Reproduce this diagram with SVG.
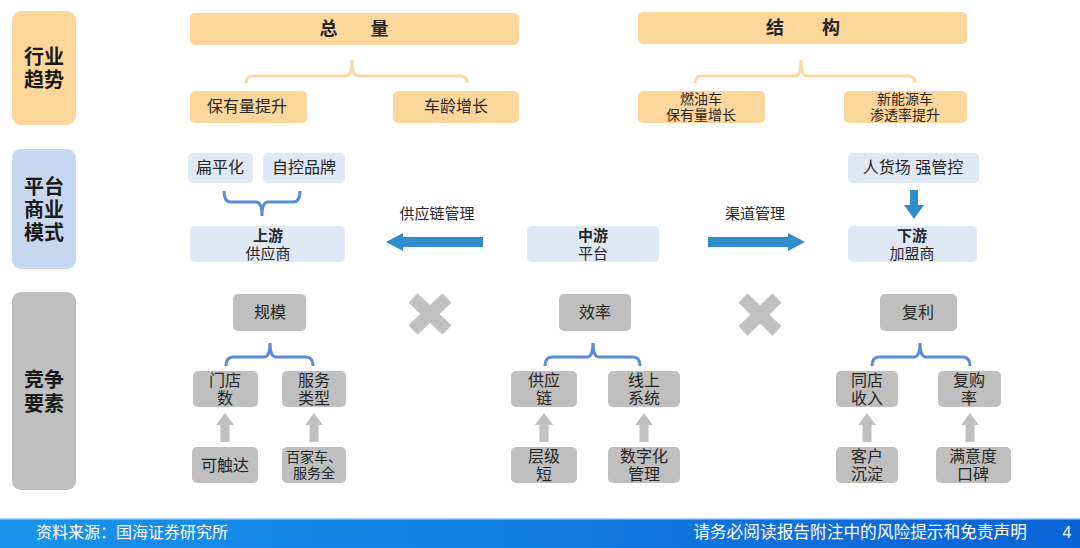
<svg xmlns="http://www.w3.org/2000/svg" width="1080" height="548" viewBox="0 0 1080 548">
<defs>
<linearGradient id="foot" x1="0" y1="0" x2="1" y2="0">
<stop offset="0" stop-color="#1994ec"/>
<stop offset="1" stop-color="#0b62d6"/>
</linearGradient>
</defs>
<style>
text{font-family:"Liberation Sans","Noto Sans CJK SC",sans-serif;text-anchor:middle;dominant-baseline:central;fill:#262626}
.side{font-size:20px;font-weight:bold;fill:#1a1a1a}
.pe{fill:#fdd69b}
.lb{fill:#dfe8f5}
.gr{fill:#bfbfbf}
.t16{font-size:16px}
.t14{font-size:14px}
.t15{font-size:15px}
.b{font-weight:bold}
.pbr{fill:none;stroke:#f9d9a8;stroke-width:3}
.bbr{fill:none;stroke:#5b8dd6;stroke-width:3}
.ba{fill:#2e8dca}
.ga{fill:#c0c0c0}
.x{stroke:#c0c0c0;stroke-width:13}
.ft{fill:#fff;font-size:16px;dominant-baseline:central}
</style>
<rect width="1080" height="548" fill="#fff"/>

<g id="row-labels">
<g id="label-trend"><rect x="12" y="11" width="64" height="114" rx="9" class="pe"/><text class="side" x="44" y="57">行业</text><text class="side" x="44" y="80">趋势</text></g>
<g id="label-model"><rect x="12" y="149" width="64" height="120" rx="9" fill="#c7d7ef"/><text class="side" x="44" y="187">平台</text><text class="side" x="44" y="210">商业</text><text class="side" x="44" y="233">模式</text></g>
<g id="label-comp"><rect x="12" y="292" width="64" height="198" rx="9" class="gr"/><text class="side" x="44" y="380">竞争</text><text class="side" x="44" y="404">要素</text></g>
</g>

<g id="connectors">
<path class="pbr" d="M246 83 Q246 76 253 76 L346 76 Q352 76 352 60 Q352 76 358 76 L460 76 Q467 76 467 83"/>
<path class="pbr" d="M695 83 Q695 76 702 76 L795 76 Q801 76 801 60 Q801 76 807 76 L908 76 Q915 76 915 83"/>
<path class="bbr" d="M224 191 Q224 202 231 202 L256 202 Q262 202 262 216 Q262 202 268 202 L293 202 Q300 202 300 191"/>
<path class="bbr" d="M226 366 Q226 357 233 357 L264 357 Q270 357 270 343 Q270 357 276 357 L306 357 Q313 357 313 366"/>
<path class="bbr" d="M545 366 Q545 357 552 357 L587 357 Q593 357 593 343 Q593 357 599 357 L633 357 Q640 357 640 366"/>
<path class="bbr" d="M872 366 Q872 357 879 357 L914 357 Q920 357 920 343 Q920 357 926 357 L963 357 Q970 357 970 366"/>
<polygon class="ba" points="386,242 403,233 403,237 483,237 483,247 403,247 403,251"/>
<polygon class="ba" points="805,242 788,233 788,237 708,237 708,247 788,247 788,251"/>
<polygon class="ba" points="914,219 904,205 910,205 910,190 918,190 918,205 924,205"/>
<polygon class="ga" points="225,413 216,425 220.5,425 220.5,442 229.5,442 229.5,425 234,425"/>
<polygon class="ga" points="314,413 305,425 309.5,425 309.5,442 318.5,442 318.5,425 323,425"/>
<polygon class="ga" points="544,413 535,425 539.5,425 539.5,442 548.5,442 548.5,425 553,425"/>
<polygon class="ga" points="644,413 635,425 639.5,425 639.5,442 648.5,442 648.5,425 653,425"/>
<polygon class="ga" points="867,413 858,425 862.5,425 862.5,442 871.5,442 871.5,425 876,425"/>
<polygon class="ga" points="970,413 961,425 965.5,425 965.5,442 974.5,442 974.5,425 979,425"/>
<text class="t15" x="437" y="213">供应链管理</text>
<text class="t15" x="755" y="213">渠道管理</text>
</g>

<g id="cross-1"><line class="x" x1="413" y1="298" x2="447" y2="330"/><line class="x" x1="447" y1="298" x2="413" y2="330"/></g>
<g id="cross-2"><line class="x" x1="743" y1="298" x2="777" y2="331"/><line class="x" x1="777" y1="298" x2="743" y2="331"/></g>

<g id="total"><rect x="190" y="13" width="329" height="32" rx="5" class="pe"/><text class="b" style="font-size:18px" x="354" y="29">总<tspan dx="33">量</tspan></text></g>
<g id="structure"><rect x="638" y="12" width="329" height="32" rx="5" class="pe"/><text class="b" style="font-size:18px" x="803" y="28">结<tspan dx="38">构</tspan></text></g>
<g id="stock-up"><rect x="190" y="91" width="117" height="32" rx="5" class="pe"/><text class="t16" x="247" y="106">保有量提升</text></g>
<g id="car-age"><rect x="393" y="91" width="126" height="32" rx="5" class="pe"/><text class="t16" x="456" y="106">车龄增长</text></g>
<g id="fuel"><rect x="638" y="91" width="127" height="32" rx="5" class="pe"/><text class="t14" x="701" y="99">燃油车</text><text class="t14" x="701" y="115">保有量增长</text></g>
<g id="nev"><rect x="844" y="91" width="123" height="32" rx="5" class="pe"/><text class="t14" x="905" y="99">新能源车</text><text class="t14" x="905" y="115">渗透率提升</text></g>

<g id="flat"><rect x="188" y="153" width="65" height="30" rx="5" class="lb"/><text class="t16" x="220" y="167">扁平化</text></g>
<g id="own-brand"><rect x="263" y="153" width="82" height="30" rx="5" class="lb"/><text class="t16" x="304" y="167">自控品牌</text></g>
<g id="upstream"><rect x="190" y="226" width="155" height="36" rx="5" class="lb"/><text class="t15 b" x="268" y="235">上游</text><text class="t15" x="268" y="253">供应商</text></g>
<g id="midstream"><rect x="527" y="226" width="132" height="36" rx="5" class="lb"/><text class="t15 b" x="593" y="235">中游</text><text class="t15" x="593" y="253">平台</text></g>
<g id="control"><rect x="848" y="153" width="131" height="30" rx="5" class="lb"/><text class="t16" x="913" y="167">人货场 强管控</text></g>
<g id="downstream"><rect x="848" y="226" width="129" height="36" rx="5" class="lb"/><text class="t15 b" x="912" y="235">下游</text><text class="t15" x="912" y="253">加盟商</text></g>

<g id="scale"><rect x="233" y="294" width="73" height="37" rx="5" class="gr"/><text class="t16" x="270" y="312">规模</text></g>
<g id="stores"><rect x="193" y="371" width="65" height="36" rx="5" class="gr"/><text class="t16" x="225" y="380">门店</text><text class="t16" x="225" y="398">数</text></g>
<g id="service-type"><rect x="282" y="371" width="64" height="36" rx="5" class="gr"/><text class="t16" x="314" y="380">服务</text><text class="t16" x="314" y="398">类型</text></g>
<g id="reach"><rect x="192" y="447" width="66" height="36" rx="5" class="gr"/><text class="t16" x="225" y="465">可触达</text></g>
<g id="full-service"><rect x="282" y="447" width="64" height="36" rx="5" class="gr"/><text class="t14" x="314" y="457">百家车、</text><text class="t14" x="314" y="473">服务全</text></g>

<g id="efficiency"><rect x="559" y="294" width="72" height="37" rx="5" class="gr"/><text class="t16" x="595" y="312">效率</text></g>
<g id="supply-chain"><rect x="511" y="371" width="66" height="36" rx="5" class="gr"/><text class="t16" x="544" y="380">供应</text><text class="t16" x="544" y="398">链</text></g>
<g id="online"><rect x="608" y="371" width="72" height="36" rx="5" class="gr"/><text class="t16" x="644" y="380">线上</text><text class="t16" x="644" y="398">系统</text></g>
<g id="short-level"><rect x="511" y="447" width="66" height="36" rx="5" class="gr"/><text class="t16" x="544" y="456">层级</text><text class="t16" x="544" y="474">短</text></g>
<g id="digital"><rect x="608" y="447" width="72" height="36" rx="5" class="gr"/><text class="t16" x="644" y="456">数字化</text><text class="t16" x="644" y="474">管理</text></g>

<g id="compound"><rect x="880" y="294" width="77" height="37" rx="5" class="gr"/><text class="t16" x="918" y="312">复利</text></g>
<g id="same-store"><rect x="836" y="371" width="62" height="36" rx="5" class="gr"/><text class="t16" x="867" y="380">同店</text><text class="t16" x="867" y="398">收入</text></g>
<g id="repurchase"><rect x="938" y="371" width="63" height="36" rx="5" class="gr"/><text class="t16" x="969" y="380">复购</text><text class="t16" x="969" y="398">率</text></g>
<g id="customers"><rect x="836" y="447" width="62" height="36" rx="5" class="gr"/><text class="t16" x="867" y="456">客户</text><text class="t16" x="867" y="474">沉淀</text></g>
<g id="satisfaction"><rect x="936" y="447" width="75" height="36" rx="5" class="gr"/><text class="t16" x="973" y="456">满意度</text><text class="t16" x="973" y="474">口碑</text></g>

<g id="footer">
<rect x="0" y="518" width="1080" height="30" fill="url(#foot)"/>
<rect x="0" y="518" width="1080" height="1.5" fill="#a9d6f7"/>
<text class="ft" x="36" y="532" style="text-anchor:start">资料来源：国海证券研究所</text>
<text class="ft" x="1027" y="532" style="text-anchor:end;font-size:16.7px">请务必阅读报告附注中的风险提示和免责声明</text>
<text class="ft" x="1067" y="532">4</text>
</g>
</svg>
